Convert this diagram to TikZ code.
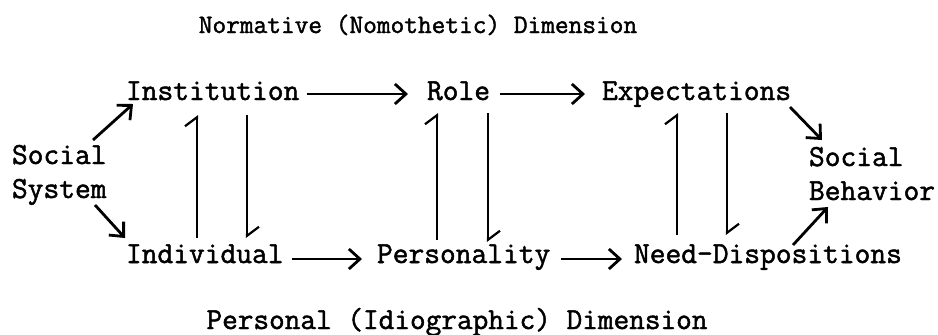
\documentclass[tikz,border=0pt]{standalone}
\usepackage{fontspec}
\newfontfamily\twfont{Latin Modern Mono}[FakeBold=1.6]
\usetikzlibrary{arrows.meta}
\tikzset{
  base/.style={inner sep=0pt, outer sep=0pt, font=\fontsize{30.6}{34}\selectfont\twfont},
  lbl/.style={base, text height=17pt, text depth=5pt, anchor=base west},
  ml/.style={base, align=left, anchor=base west},
  ttl/.style={inner sep=0pt, anchor=base},
  arr/.style={line width=2.8pt, -{Straight Barb[length=11pt,width=20pt,line width=2.8pt]}},
  harp/.style={line width=2.2pt, -{Straight Barb[left,length=9pt,width=24pt,line width=2.2pt]}},
}
\begin{document}
\begin{tikzpicture}[x=1pt,y=-1pt]
\useasboundingbox (0,0) rectangle (938,335);
\node[ttl, font=\fontsize{26.6}{30}\selectfont\twfont] (top) at (418,33) {Normative (Nomothetic) Dimension};
\node[ttl, font=\fontsize{30.4}{34}\selectfont\twfont] (bot) at (457,329) {Personal (Idiographic) Dimension};

\node[lbl] (inst) at (126,100) {Institution};
\node[lbl] (role) at (427,100) {Role};
\node[lbl] (exp)  at (602,100) {Expectations};
\node[lbl] (ind)  at (126,263) {Individual};
\node[lbl] (pers) at (377,263) {Personality};
\node[lbl] (need) at (634,263) {Need-Dispositions};
\node[ml] (ss) at (12,198) {Social\\System};
\node[ml] (sb) at (809,200) {Social\\Behavior};

% horizontal arrows
\draw[arr] ([xshift=8pt]inst.east) -- ([xshift=-19pt]role.west);
\draw[arr] ([xshift=10pt]role.east) -- ([xshift=-17pt]exp.west);
\draw[arr] ([xshift=8pt,yshift=-2pt]ind.east) -- ([xshift=-15pt,yshift=-2pt]pers.west);
\draw[arr] ([xshift=11pt,yshift=-2pt]pers.east) -- ([xshift=-12pt,yshift=-2pt]need.west);

% diagonal arrows
\coordinate (ssA) at (93,140);
\coordinate (ssB) at (95,205);
\coordinate (expB) at (790,107);
\coordinate (needB) at (793,245);
\draw[arr] (ssA) -- ([xshift=7pt,yshift=1pt]inst.south west);
\draw[arr] (ssB) -- ([xshift=-1pt,yshift=8pt]ind.north west);
\draw[arr] (expB) -- (822,140) coordinate (sbA);
\draw[arr] (needB) -- (828,207) coordinate (sbB);

% vertical harpoons
\coordinate (i1) at ([xshift=71pt,yshift=-10pt]inst.south west);
\coordinate (i2) at ([xshift=121pt,yshift=-10pt]inst.south west);
\coordinate (r1) at ([xshift=10pt,yshift=-8pt]role.south west);
\coordinate (r2) at ([xshift=61pt,yshift=-8pt]role.south west);
\coordinate (e1) at ([xshift=75pt,yshift=-8pt]exp.south west);
\coordinate (e2) at ([xshift=125pt,yshift=-8pt]exp.south west);

\draw[harp] ([yshift=8pt]i1 |- ind.north) -- (i1);
\draw[harp] (i2) -- ([yshift=8pt]i2 |- ind.north);
\draw[harp] ([yshift=6pt]r1 |- pers.north) -- (r1);
\draw[harp] (r2) -- ([yshift=4pt]r2 |- pers.north);
\draw[harp] ([yshift=11pt]e1 |- need.north) -- (e1);
\draw[harp] (e2) -- ([yshift=11pt]e2 |- need.north);
\end{tikzpicture}
\end{document}
